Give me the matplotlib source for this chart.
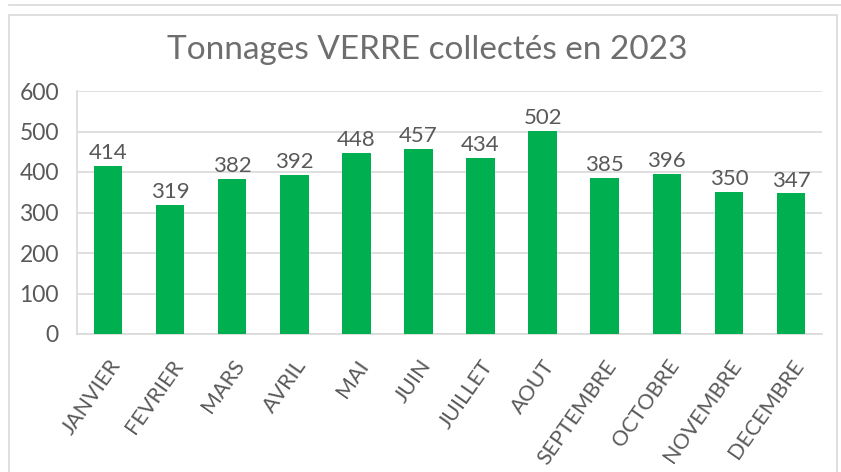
import matplotlib
matplotlib.use("Agg")
import matplotlib.pyplot as plt
from matplotlib.patches import Rectangle
from matplotlib.lines import Line2D

months = ["JANVIER", "FEVRIER", "MARS", "AVRIL", "MAI", "JUIN", "JUILLET",
          "AOUT", "SEPTEMBRE", "OCTOBRE", "NOVEMBRE", "DECEMBRE"]
tonnages = [414, 319, 382, 392, 448, 457, 434, 502, 385, 396, 350, 347]
yticks = [0, 100, 200, 300, 400, 500, 600]
title = "Tonnages VERRE collectés en 2023"

plt.rcParams['font.family'] = ['Lato', 'DejaVu Sans']
W, H = 841, 472
fig = plt.figure(figsize=(W / 100, H / 100), dpi=100)
fig.patch.set_facecolor("white")

# outer chart frame and line of preceding element
fig.add_artist(Rectangle((9 / W, -0.02), (837 - 9) / W, (H - 15) / H + 0.02,
                         transform=fig.transFigure, fill=False,
                         edgecolor="#D9D9D9", lw=1.2))
fig.add_artist(Line2D([9 / W, 1.0], [1 - 5 / H, 1 - 5 / H],
                      transform=fig.transFigure, color="#D9D9D9", lw=1.2))

left, right, top, bottom = 77, 822, 91, 334
ax = fig.add_axes([left / W, 1 - bottom / H, (right - left) / W, (bottom - top) / H])
x = list(range(len(months)))
bars = ax.bar(x, tonnages, width=0.46, color="#00B050", zorder=3)
ax.set_xlim(-0.5, len(months) - 0.5)
ax.set_ylim(0, 600)
ax.set_yticks(yticks)
ax.set_yticklabels([str(v) for v in yticks], fontsize=16.5, color="#595959")
ax.yaxis.grid(True, color="#D9D9D9", lw=1.2, zorder=0)
ax.tick_params(axis="both", length=0)
ax.tick_params(axis="y", pad=13)
ax.set_xticks(x)
ax.set_xticklabels(months, rotation=55, ha="right", rotation_mode="anchor",
                   fontsize=15.5, color="#595959")
ax.tick_params(axis="x", pad=16)
for s in ["top", "right"]:
    ax.spines[s].set_visible(False)
ax.spines["left"].set_color("#D9D9D9")
ax.spines["bottom"].set_color("#D9D9D9")
ax.spines["left"].set_linewidth(1.2)
ax.spines["bottom"].set_linewidth(1.2)

for xi, v in zip(x, tonnages):
    ax.text(xi, v + 7, str(v), ha="center", va="bottom", fontsize=16,
            color="#595959")

fig.text((165 + 690) / 2 / W, 1 - 50 / H, title, ha="center", va="center",
         fontsize=24, color="#6E6E6E")

fig.savefig("out.png", dpi=100)
